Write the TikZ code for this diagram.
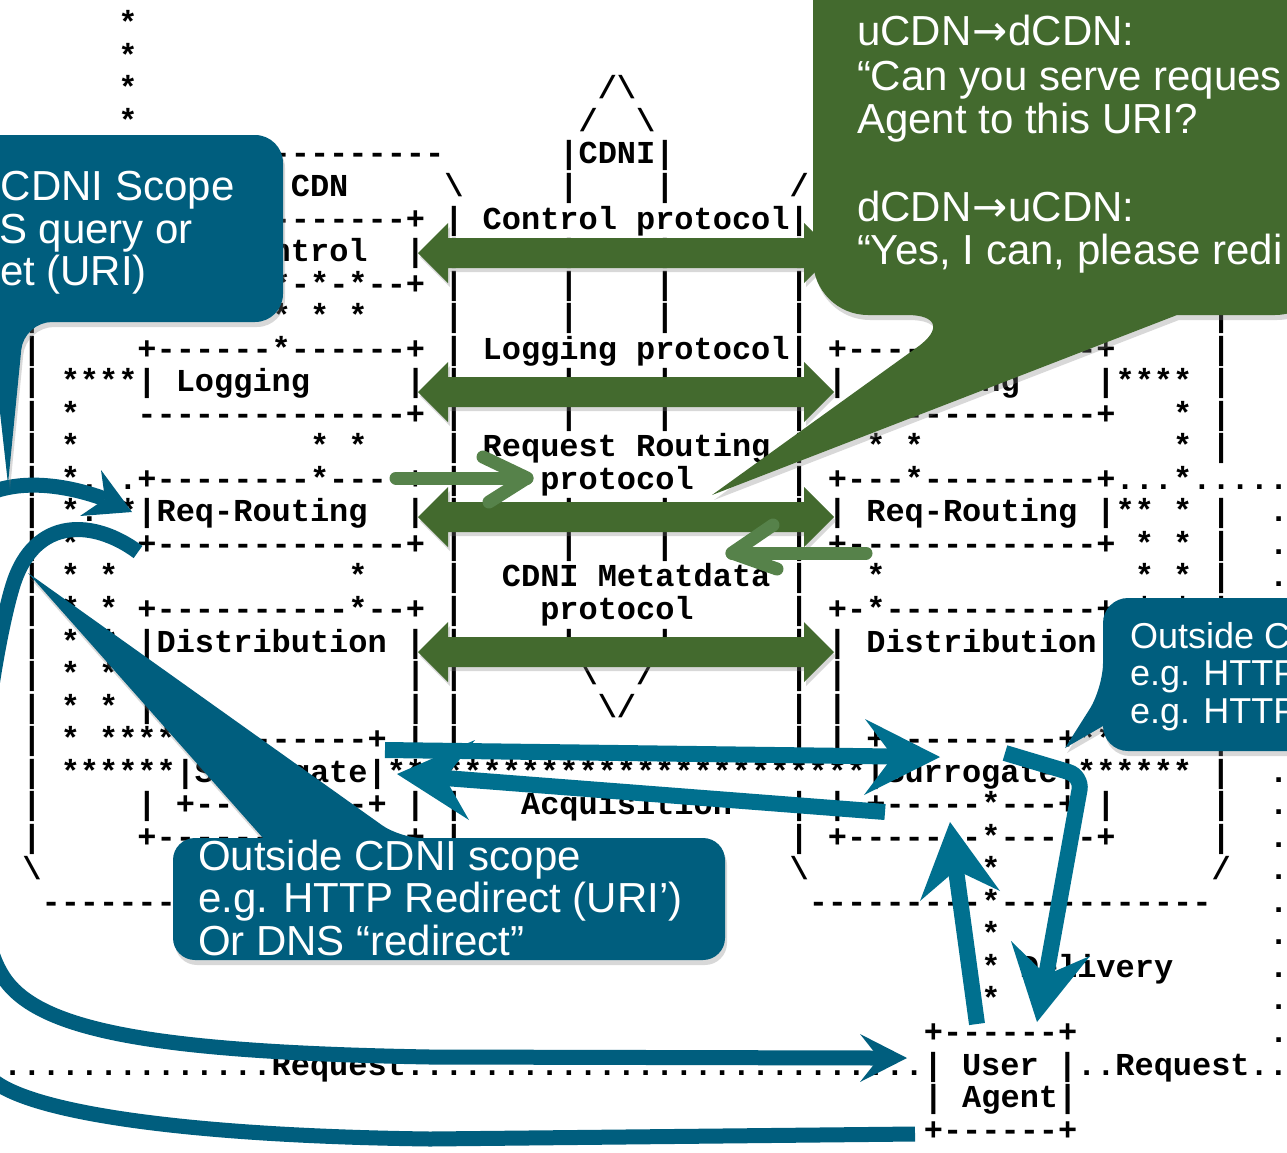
\documentclass[tikz,border=0pt]{standalone}
\usepackage{fontspec}
\newfontfamily\ascfont{Liberation Mono}[Ligatures=TeXOff]
\newfontfamily\calfont{Liberation Sans}
\newfontfamily\symfont{DejaVu Sans}
\usetikzlibrary{calc,shadows}
\definecolor{cblue}{RGB}{0,94,126}
\definecolor{ablue}{RGB}{0,112,143}
\definecolor{cgreen}{RGB}{67,106,46}
\definecolor{lgreen}{RGB}{86,130,74}
\newcommand\bs{\textbackslash}
\newcommand\arr{{\symfont\kern1pt →\kern1pt}}
\newcommand\T[3]{\node[asc] (t#2c#1) at ({22.41+19.18*(#1)},{33.76+32.54*(#2)}) {#3};}
\newcommand\Proto[2]{%
  \coordinate (#1L) at (418,#2);
  \coordinate (#1R) at (834,#2);
  \fill[protoarrow] (#1L) -- ++(30,-30) -- ++(0,15) -- ($(#1R)+(-30,-15)$) -- ++(0,-15) -- (#1R) -- ++(-30,30) -- ++(0,-15) -- ($(#1L)+(30,15)$) -- ++(0,15) -- cycle;}
\begin{document}
\begin{tikzpicture}[x=1pt,y=-1pt,
  asc/.style={anchor=base west, inner sep=0pt, outer sep=0pt, text=black, font=\ascfont\bfseries\fontsize{31.96}{32.54}\selectfont},
  ctext/.style={anchor=base west, inner sep=0pt, outer sep=0pt, text=white, font=\calfont\fontsize{42}{44}\selectfont},
  ctextsmall/.style={ctext, font=\calfont\fontsize{36}{38}\selectfont},
  protoarrow/.style={fill=cgreen, drop shadow={opacity=.3, shadow xshift=2pt, shadow yshift=-4pt}},
  callshadow/.style={drop shadow={opacity=.3, shadow xshift=2pt, shadow yshift=-5pt}},
  lgarrow/.style={draw=lgreen, line width=13pt, line cap=round, line join=round},
  cbody/.style={draw=cblue, line width=15pt},
  abody/.style={draw=ablue, line width=16pt}]
\useasboundingbox (0,0) rectangle (1287,1152);
\clip (0,0) rectangle (1287,1152);
\fill[white] (0,0) rectangle (1287,1152);

% ---------- ASCII art ----------
\T{5}{0}{*}
\T{5}{1}{*}
\T{5}{2}{*}\T{30}{2}{/\bs}
\T{5}{3}{*}\T{29}{3}{/~~\bs}
\T{1}{4}{---------------------}\T{28}{4}{|CDNI|}\T{41}{4}{---------------------}
\T{0}{5}{/}\T{5}{5}{Upstream~CDN}\T{22}{5}{\bs}\T{28}{5}{|~~~~|}\T{40}{5}{/}\T{46}{5}{Downstream~CDN}\T{62}{5}{\bs}
\T{0}{6}{|}\T{6}{6}{+-------------+}\T{22}{6}{|~Control~protocol|}\T{42}{6}{+-------------+}\T{62}{6}{|}
\T{0}{7}{|}\T{6}{7}{|~~~~Control~~|}\T{22}{7}{|~~~~~|~~~~|~~~~~~|}\T{42}{7}{|~~Control~~~~|}\T{62}{7}{|}
\T{0}{8}{|}\T{6}{8}{+------*-*-*--+}\T{22}{8}{|~~~~~|~~~~|~~~~~~|}\T{42}{8}{+-*-*-*-------+}\T{62}{8}{|}
\T{0}{9}{|}\T{13}{9}{*~*~*}\T{22}{9}{|~~~~~|~~~~|~~~~~~|}\T{44}{9}{*~*~*}\T{62}{9}{|}
\T{0}{10}{|}\T{6}{10}{+------*------+}\T{22}{10}{|~Logging~protocol|}\T{42}{10}{+------*------+}\T{62}{10}{|}
\T{0}{11}{|~****|~Logging}\T{20}{11}{|}\T{22}{11}{|~~~~~|~~~~|~~~~~~|}\T{42}{11}{|~~Logging~~~~|****~|}
\T{0}{12}{|~*~~~--------------+}\T{22}{12}{|~~~~~|~~~~|~~~~~~|}\T{42}{12}{--------------+~~~*~|}
\T{0}{13}{|~*}\T{15}{13}{*~*}\T{22}{13}{|~Request~Routing~|}\T{44}{13}{*~*}\T{60}{13}{*~|}
\T{0}{14}{|~*...+--------*----+}\T{22}{14}{|}\T{27}{14}{protocol}\T{40}{14}{|}\T{42}{14}{+---*---------+...*.....}
\T{0}{15}{|~*.**|Req-Routing~~|}\T{22}{15}{|~~~~~|~~~~|~~~~~~|}\T{42}{15}{|~Req-Routing~|**~*~|}\T{65}{15}{.}
\T{0}{16}{|~*~*~+-------------+}\T{22}{16}{|~~~~~|~~~~|~~~~~~|}\T{42}{16}{+-------------+~*~*~|}\T{65}{16}{.}
\T{0}{17}{|~*~*}\T{17}{17}{*}\T{22}{17}{|~~CDNI~Metatdata~|}\T{44}{17}{*}\T{58}{17}{*~*~|}\T{65}{17}{.}
\T{0}{18}{|~*~*~+----------*--+}\T{22}{18}{|~~~~protocol~~~~~|}\T{42}{18}{+-*-----------+~*~*~|}\T{65}{18}{.}
\T{0}{19}{|~*~*~|Distribution~|}\T{22}{19}{|~~~~~|~~~~|~~~~~~|}\T{42}{19}{|~Distribution|~*~*~|}\T{65}{19}{.}
\T{0}{20}{|~*~*~|}\T{20}{20}{|~|}\T{29}{20}{\bs~~/}\T{40}{20}{|~|}\T{56}{20}{|~*~*~|}\T{65}{20}{.}
\T{0}{21}{|~*~*~|}\T{20}{21}{|~|}\T{30}{21}{\bs/}\T{40}{21}{|~|}\T{56}{21}{|~*~*~|}\T{65}{21}{.}
\T{0}{22}{|~*~****+---------+~|~|}\T{40}{22}{|~|~+---------+****~*~|}\T{65}{22}{.}
\T{0}{23}{|~******|Surrogate|*************************|Surrogate|******~|}\T{65}{23}{.}
\T{0}{24}{|}\T{6}{24}{|~+---------+~|}\T{22}{24}{|~~~Acquisition~~~|}\T{42}{24}{|~+-----*---+~|}\T{62}{24}{|}\T{65}{24}{.}
\T{0}{25}{|}\T{6}{25}{+-------------+}\T{22}{25}{|}\T{40}{25}{|}\T{42}{25}{+-------*-----+}\T{62}{25}{|}\T{65}{25}{.}
\T{0}{26}{\bs}\T{22}{26}{/}\T{40}{26}{\bs}\T{50}{26}{*}\T{62}{26}{/}\T{65}{26}{.}
\T{1}{27}{---------------------}\T{41}{27}{---------*-----------}\T{65}{27}{.}
\T{50}{28}{*}\T{65}{28}{.}
\T{50}{29}{*~Delivery}\T{65}{29}{.}
\T{50}{30}{*}\T{65}{30}{.}
\T{47}{31}{+------+}\T{65}{31}{.}
\T{-1}{32}{..............Request...........................|~User~|..Request..}
\T{47}{33}{|~Agent|}
\T{47}{34}{+------+}

% ---------- CDNI protocol arrows ----------
\Proto{ctl}{253}
\Proto{log}{392}
\Proto{req}{517}
\Proto{meta}{652}

% ---------- light green request-routing arrows ----------
\coordinate (g1s) at (396,478); \coordinate (g1t) at (527,478);
\draw[lgarrow] (g1s) -- (g1t);
\draw[lgarrow] ($(g1t)+(-44,-21)$) -- (g1t) -- ($(g1t)+(-38,24)$);
\coordinate (g2s) at (866,553); \coordinate (g2t) at (732,553);
\draw[lgarrow] (g2s) -- (g2t);
\draw[lgarrow] ($(g2t)+(41,-28)$) -- (g2t) -- ($(g2t)+(45,16)$);

% ---------- blue curves (request / redirect) ----------
\coordinate (rrB) at (138,552);
\coordinate (uaA) at (907,1058);
\draw[cbody] (rrB) .. controls (95,520) and (35,515) .. (13,585) .. controls (-10,660) and (-45,900) .. (2,975) .. controls (35,1030) and (150,1052) .. (430,1057) -- (879,1058);
\fill[cblue] (uaA) -- (860,1034) -- (879,1058) -- (860,1082) -- cycle;
\coordinate (uaB) at (915,1134);
\coordinate (rrT) at (132,512);
\draw[cbody] (uaB) -- (430,1139) .. controls (200,1136) and (40,1115) .. (-5,1082) .. controls (-80,1000) and (-80,540) .. (-8,492) .. controls (30,478) and (75,488) .. (105,499);
\fill[cblue] (rrT) -- (101,470) -- (105,499) -- (80,516) -- cycle;

% ---------- blue arrows at surrogates ----------
\coordinate (s1a) at (385,750); \coordinate (s1b) at (940,757);
\draw[abody] (s1a) -- (893,756.5);
\fill[ablue] (s1b) -- (865,719) -- (893,756.5) -- (864,795) -- cycle;
\coordinate (s2a) at (885,812); \coordinate (s2b) at (397,774);
\draw[abody] (s2a) -- (445,778);
\fill[ablue] (s2b) -- (475,740) -- (445,778) -- (469,820) -- cycle;
\coordinate (s3a) at (977,1024); \coordinate (s3b) at (950,822);
\draw[abody] (s3a) -- (956,870);
\fill[ablue] (s3b) -- (1000,891) -- (956,870) -- (920,901) -- cycle;
\coordinate (s4a) at (1005,753); \coordinate (s4b) at (1037,1022);
\draw[abody, rounded corners=14pt] (s4a) -- (1082,776) -- (1046,976);
\fill[ablue] (s4b) -- (1090,956) -- (1046,975) -- (1011,941) -- cycle;

% ---------- callouts ----------
\fill[cblue, callshadow] (-40,135) [rounded corners=28pt] -- (283,135) -- (283,322) -- (24,322) [sharp corners] -- (8,484) -- (-10,322) -- (-40,322) -- cycle;
\node[ctext] (k1a) at (1,200) {CDNI Scope};
\node[ctext] (k1b) at (-1,243) {S query or};
\node[ctext] (k1c) at (0,285) {et (URI)};

\fill[cgreen, callshadow] (962,315) -- (712,495) -- (1177,315) [rounded corners=55pt] -- (1330,315) -- (1330,-60) -- (813,-60) -- (813,315) -- cycle;
\node[ctext] (k2a) at (857,45) {uCDN\arr dCDN:};
\node[ctext] (k2b) at (857,90) {“Can you serve reques};
\node[ctext] (k2c) at (857,133) {Agent to this URI?};
\node[ctext] (k2d) at (857,221) {dCDN\arr uCDN:};
\node[ctext] (k2e) at (857,264) {“Yes, I can, please redi};

\fill[cblue, callshadow] (400,838) -- (28,573) -- (263,838) [rounded corners=22pt] -- (173,838) -- (173,960) -- (725,960) -- (725,838) -- cycle;
\node[ctext] (k3a) at (198,870) {Outside CDNI scope};
\node[ctext] (k3b) at (198,912) {e.g. HTTP Redirect (URI’)};
\node[ctext] (k3c) at (198,955) {Or DNS “redirect”};

\fill[cblue, callshadow] (1330,598) [rounded corners=25pt] -- (1103,598) -- (1103,688) [sharp corners] -- (1065,748) -- (1103,726) [rounded corners=25pt] -- (1103,751) -- (1330,751) -- cycle;
\node[ctextsmall] (k4a) at (1130,648) {Outside C};
\node[ctextsmall] (k4b) at (1130,685) {e.g. HTTP};
\node[ctextsmall] (k4c) at (1130,723) {e.g. HTTP};
\end{tikzpicture}
\end{document}
